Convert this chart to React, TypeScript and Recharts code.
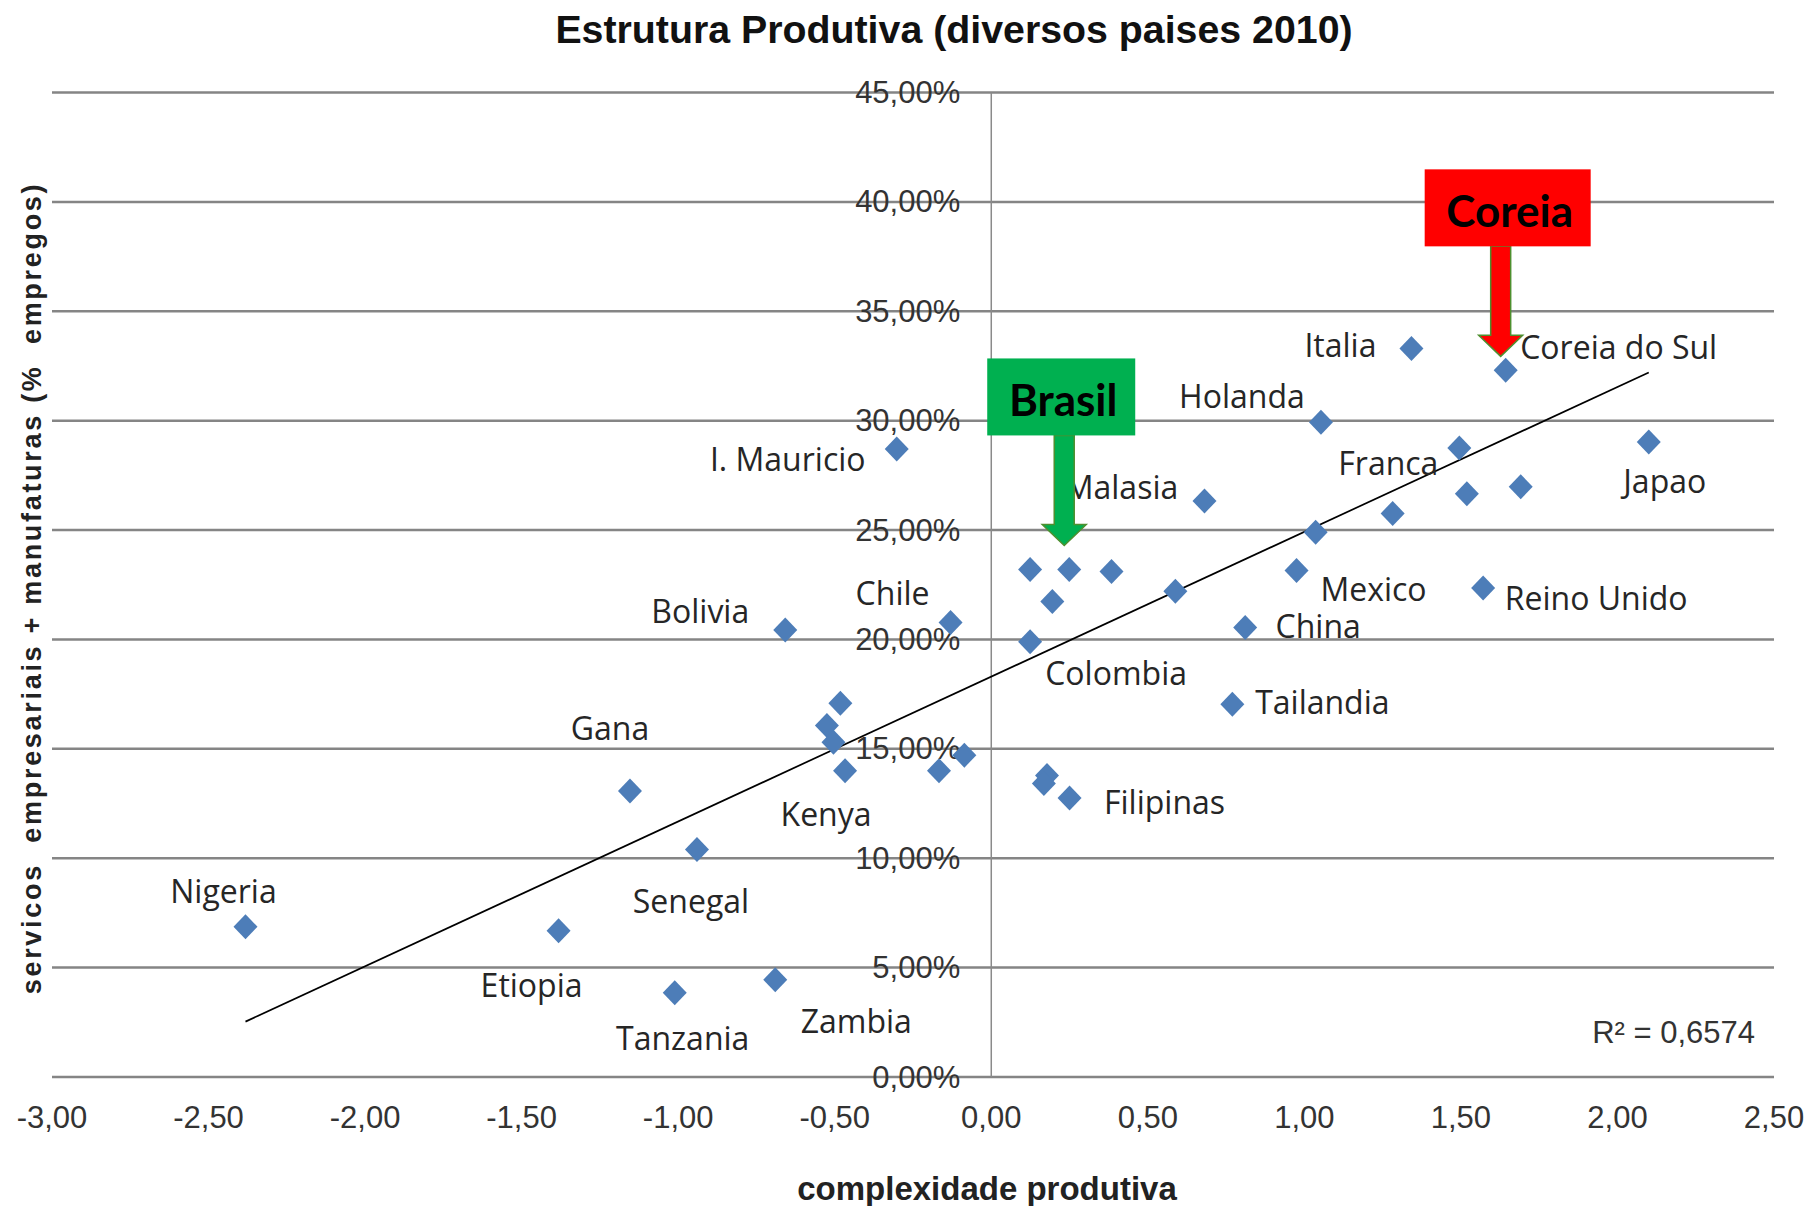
import React from 'react';
import { ScatterChart, Scatter, XAxis, YAxis, CartesianGrid, ReferenceLine } from 'recharts';

// ---- data ----
const pointLabels = [
  'Nigeria', 'Etiopia', 'Gana', 'Senegal', 'Tanzania', 'Zambia', 'Bolivia', 'I. Mauricio', 'Chile', 'Kenya',
  'Colombia', 'Filipinas', 'Tailandia', 'China', 'Mexico', 'Reino Unido', 'Malasia', 'Franca', 'Holanda', 'Italia',
  'Coreia do Sul', 'Japao',
  '', '', '', '', '', '', '', '', '', '', '', '', '', '', '', '',
];
const complexity = [
  -2.382, -1.382, -1.154, -0.94, -1.011, -0.69, -0.658, -0.302, -0.13, -0.467,
  0.124, 0.25, 0.77, 0.811, 0.975, 1.571, 0.681, 1.495, 1.053, 1.342,
  1.643, 2.1,
  -0.482, -0.525, -0.504, -0.167, -0.086, 0.124, 0.249, 0.384, 0.195, 0.588, 0.178, 0.168, 1.519, 1.691, 1.282, 1.036,
];
const employmentShare = [
  6.87, 6.68, 13.07, 10.4, 3.85, 4.45, 20.43, 28.7, 20.77, 14.0,
  19.9, 12.75, 17.04, 20.55, 23.15, 22.35, 26.33, 28.75, 29.93, 33.3,
  32.3, 29.03,
  17.08, 16.07, 15.3, 14.0, 14.71, 23.2, 23.2, 23.1, 21.74, 22.2, 13.78, 13.42, 26.66, 26.98, 25.76, 24.9,
];
// label placement relative to its marker (pixels)
const labelDx = [-22, -27, -20, -6, 8, 81, -85, -109, -58, -19, 86, 95, 90, 73, 77, 113, -83, -71, -79, -71, 113, 16];
const labelDy = [-36, 54, -64, 51, 45, 41, -20, 9, -30, 43, 31, 3, -3, -2, 18, 9, -14, 14, -27, -4, -24, 39];

const xTicks = [-3, -2.5, -2, -1.5, -1, -0.5, 0, 0.5, 1, 1.5, 2, 2.5];
const yTicks = [0, 5, 10, 15, 20, 25, 30, 35, 40, 45];

const trendIntercept = 18.3;
const trendSlope = 6.62;
const rSquaredText = 'R² = 0,6574';

const annotationNames = ['Brasil', 'Coreia'];
const annotationPointIndex = [28, 20];
const annotationColors = ['#00B050', '#FF0000'];
const annotationBoxWidths = [148, 166];
const annotationBoxShift = [-3, 7];
const annotationTipDx = [-5, -5];
const annotationTipDy = [-24, -14];

const titleText = 'Estrutura Produtiva (diversos paises 2010)';
const xTitle = 'complexidade produtiva';
const yTitle = 'servicos  empresariais + manufaturas (%  empregos)';

// ---- tables for the library ----
const points = complexity.map((x, i) => ({
  x,
  y: employmentShare[i],
  label: pointLabels[i],
  dx: labelDx[i] ?? 0,
  dy: labelDy[i] ?? 0,
}));
const xMin = Math.min(...complexity);
const xMax = Math.max(...complexity);
const trend = [
  { x: xMin, y: trendIntercept + trendSlope * xMin },
  { x: xMax, y: trendIntercept + trendSlope * xMax },
];
const yTickPoints = yTicks.map((v) => ({ x: 0, y: v }));
const xTickPoints = xTicks.map((v) => ({ x: v, y: 0 }));
const annotations = annotationNames.map((name, i) => ({
  x: complexity[annotationPointIndex[i]],
  y: employmentShare[annotationPointIndex[i]],
  name,
  color: annotationColors[i],
  boxW: annotationBoxWidths[i],
  shift: annotationBoxShift[i],
  tdx: annotationTipDx[i],
  tdy: annotationTipDy[i],
}));

const fmt = (v: number) => v.toFixed(2).replace('.', ',');
const ARIAL = '"Liberation Sans", Arial, sans-serif';
const LABEL_FONT = '"Open Sans", "Noto Sans", sans-serif';

const PointShape = (props: any) => {
  const { cx, cy, payload } = props;
  const hw = 12;
  const hh = 12.5;
  return (
    <g>
      <path d={`M${cx},${cy - hh} L${cx + hw},${cy} L${cx},${cy + hh} L${cx - hw},${cy} Z`} fill="#4D7DB8" />
      {payload.label ? (
        <text
          x={cx + payload.dx}
          y={cy + payload.dy}
          textAnchor="middle"
          dominantBaseline="central"
          fontFamily={LABEL_FONT}
          fontSize={32}
          fill="#262626"
        >
          {payload.label}
        </text>
      ) : null}
    </g>
  );
};

const YTickShape = (props: any) => {
  const { cx, cy, payload } = props;
  return (
    <text x={cx - 31} y={cy} textAnchor="end" dominantBaseline="central" fontFamily={ARIAL} fontSize={31} fill="#333">
      {fmt(payload.y) + '%'}
    </text>
  );
};

const XTickShape = (props: any) => {
  const { cx, cy, payload } = props;
  return (
    <text x={cx} y={cy + 40} textAnchor="middle" dominantBaseline="central" fontFamily={ARIAL} fontSize={31} fill="#333">
      {fmt(payload.x)}
    </text>
  );
};

const NoShape = () => <g />;

const AnnotationShape = (props: any) => {
  const { cx, cy, payload } = props;
  const tipX = cx + payload.tdx;
  const tipY = cy + payload.tdy;
  const boxH = 77;
  const boxBottom = tipY - 110;
  const boxCx = tipX + payload.shift;
  const headH = 21;
  const headHalf = 22;
  const shaftHalf = 10;
  const arrow = `M${tipX - shaftHalf},${boxBottom} L${tipX + shaftHalf},${boxBottom} L${tipX + shaftHalf},${tipY - headH} L${tipX + headHalf},${tipY - headH} L${tipX},${tipY} L${tipX - headHalf},${tipY - headH} L${tipX - shaftHalf},${tipY - headH} Z`;
  return (
    <g>
      <path d={arrow} fill={payload.color} stroke="#4E8F2F" strokeWidth={1.5} strokeLinejoin="miter" />
      <rect x={boxCx - payload.boxW / 2} y={boxBottom - boxH} width={payload.boxW} height={boxH} fill={payload.color} />
      <text
        x={boxCx + 2}
        y={boxBottom - boxH / 2 + 2}
        textAnchor="middle"
        dominantBaseline="central"
        fontFamily="Lato, sans-serif"
        fontWeight={700}
        fontSize={44}
        fill="#000"
      >
        {payload.name}
      </text>
    </g>
  );
};

export default function App() {
  return (
    <div style={{ position: 'absolute', left: 0, top: 0, width: 1812, height: 1206, background: '#fff' }}>
      <ScatterChart width={1812} height={1206} margin={{ top: 92.5, right: 38, bottom: 129, left: 52 }}>
        <XAxis type="number" dataKey="x" domain={[-3, 2.5]} ticks={xTicks} hide />
        <YAxis type="number" dataKey="y" domain={[0, 45]} ticks={yTicks} hide />
        <CartesianGrid vertical={false} stroke="#858585" strokeWidth={2.5} />
        <ReferenceLine x={0} stroke="#8a8a8a" strokeWidth={1.5} />
        <Scatter data={yTickPoints} shape={YTickShape} isAnimationActive={false} />
        <Scatter data={xTickPoints} shape={XTickShape} isAnimationActive={false} />
        <Scatter data={trend} shape={NoShape} line={{ stroke: '#000', strokeWidth: 1.7 }} isAnimationActive={false} />
        <Scatter data={points} shape={PointShape} isAnimationActive={false} />
        <Scatter data={annotations} shape={AnnotationShape} isAnimationActive={false} />
      </ScatterChart>
      <svg width={1812} height={1206} style={{ position: 'absolute', left: 0, top: 0, pointerEvents: 'none' }}>
        <text x={954} y={29} textAnchor="middle" dominantBaseline="central" fontFamily={ARIAL} fontWeight={700} fontSize={39.3} fill="#111">
          {titleText}
        </text>
        <text x={987} y={1188} textAnchor="middle" dominantBaseline="central" fontFamily={ARIAL} fontWeight={700} fontSize={33} fill="#222">
          {xTitle}
        </text>
        <text
          x={32}
          y={588}
          transform="rotate(-90, 32, 588)"
          textAnchor="middle"
          dominantBaseline="central"
          fontFamily={ARIAL}
          fontWeight={700}
          fontSize={27}
          letterSpacing={2.7}
          fill="#222"
          style={{ whiteSpace: 'pre' }}
        >
          {yTitle}
        </text>
        <text x={1755} y={1032} textAnchor="end" dominantBaseline="central" fontFamily={ARIAL} fontSize={31} fill="#333">
          {rSquaredText}
        </text>
      </svg>
    </div>
  );
}
